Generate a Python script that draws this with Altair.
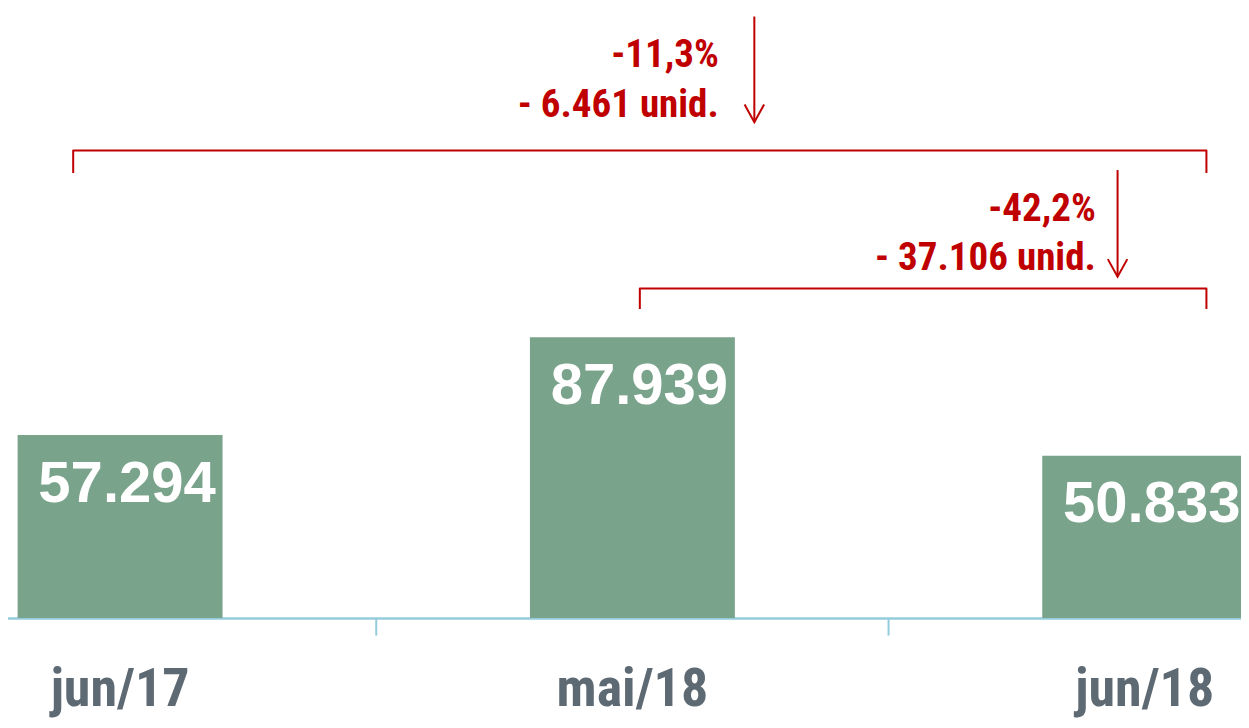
import altair as alt
import pandas as pd

# ---- data ----
categories = ["jun/17", "mai/18", "jun/18"]
values = [57294, 87939, 50833]
value_labels = ["57.294", "87.939", "50.833"]

# annotation texts (two comparisons)
pct_labels = ["-11,3%", "-42,2%"]
unit_labels = ["- 6.461 unid.", "- 37.106 unid."]

# annotation geometry, x in category-index units, y in data units
bracket_left = [-0.0915, 1.0145]
bracket_right = [2.1204, 2.1204]
bracket_top = [146459, 103257]
bracket_end = [139412, 96823]
arrow_x = [1.238, 1.947]
arrow_start = [188436, 140331]
arrow_tip = [155345, 106934]
text_x = [1.1686, 1.9046]
pct_y = [172503, 124398]
unit_y = [156877, 109078]
boundaries = [0.5, 1.5]          # category separators (axis ticks)

PLOT_H = 610
Y_MAX = 191107
TICK_LOW = -5515
X_RANGE = [-144.1, 1392.9]
RED = "#C00000"
GREEN = "#7AA38C"
GRAY = "#5E6A73"
BLUE = "#93CDDD"
NARROW = "Liberation Sans Narrow, Arial Narrow, Roboto Condensed, Liberation Sans, sans-serif"

bars_df = pd.DataFrame({"cat": categories, "value": values, "label": value_labels})

y_scale = alt.Scale(domain=[0, Y_MAX], nice=False, zero=True)
x_band = alt.Scale(range=X_RANGE, paddingInner=0.6, paddingOuter=0.3)
x_idx = alt.Scale(domain=[-0.5, 2.5], range=X_RANGE, nice=False, zero=False)

x_axis = alt.Axis(
    title=None, labelAngle=0, domainColor=BLUE, domainWidth=2.5, ticks=False,
    labelFont=NARROW, labelFontSize=54, labelFontWeight="bold", labelColor=GRAY,
    labelBaseline="alphabetic", labelPadding=87, grid=False,
)

bars = alt.Chart(bars_df).mark_bar(color=GREEN).encode(
    x=alt.X("cat:N", sort=categories, scale=x_band, axis=x_axis),
    y=alt.Y("value:Q", scale=y_scale, axis=None),
)
bar_text = alt.Chart(bars_df).mark_text(
    color="white", font="Liberation Sans", fontSize=58, fontWeight="bold",
    baseline="alphabetic", align="center", dy=66.5, dx=7,
).encode(
    x=alt.X("cat:N", sort=categories, scale=x_band, axis=x_axis),
    y=alt.Y("value:Q", scale=y_scale, axis=None),
    text="label:N",
)
base = alt.layer(bars, bar_text)

ticks_df = pd.DataFrame({"xi": boundaries, "y0": [0, 0], "y1": [TICK_LOW, TICK_LOW]})
ticks = alt.Chart(ticks_df).mark_rule(color=BLUE, strokeWidth=2).encode(
    x=alt.X("xi:Q", scale=x_idx, axis=None),
    y=alt.Y("y0:Q", scale=y_scale, axis=None),
    y2="y1:Q",
)

# brackets and arrow shafts as polylines
rows = []
for i in range(2):
    pts = [(bracket_left[i], bracket_end[i]), (bracket_left[i], bracket_top[i]),
           (bracket_right[i], bracket_top[i]), (bracket_right[i], bracket_end[i])]
    for k, (xx, yy) in enumerate(pts):
        rows.append({"g": f"b{i}", "o": k, "xi": xx, "yv": yy})
    rows.append({"g": f"a{i}", "o": 0, "xi": arrow_x[i], "yv": arrow_start[i]})
    rows.append({"g": f"a{i}", "o": 1, "xi": arrow_x[i], "yv": arrow_tip[i]})
lines_df = pd.DataFrame(rows)

lines = alt.Chart(lines_df).mark_line(
    color=RED, strokeWidth=2, strokeJoin="round", strokeCap="butt"
).encode(
    x=alt.X("xi:Q", scale=x_idx, axis=None),
    y=alt.Y("yv:Q", scale=y_scale, axis=None),
    detail="g:N",
    order="o:Q",
)

heads_df = pd.DataFrame({"xi": arrow_x, "yv": arrow_tip})
heads = alt.Chart(heads_df).mark_point(
    shape="M -1 -1.8 L 0 0 L 1 -1.8", size=380, filled=False,
    stroke=RED, strokeWidth=2, opacity=1,
).encode(
    x=alt.X("xi:Q", scale=x_idx, axis=None),
    y=alt.Y("yv:Q", scale=y_scale, axis=None),
)

txt_rows = []
for i in range(2):
    txt_rows.append({"xi": text_x[i], "yv": pct_y[i], "t": pct_labels[i]})
    txt_rows.append({"xi": text_x[i], "yv": unit_y[i], "t": unit_labels[i]})
txt_df = pd.DataFrame(txt_rows)
ann_text = alt.Chart(txt_df).mark_text(
    color=RED, font=NARROW, fontSize=39, fontWeight="bold",
    align="right", baseline="alphabetic",
).encode(
    x=alt.X("xi:Q", scale=x_idx, axis=None),
    y=alt.Y("yv:Q", scale=y_scale, axis=None),
    text="t:N",
)

annotations = alt.layer(ticks, lines, heads, ann_text)

chart = alt.layer(base, annotations).resolve_scale(
    x="independent"
).properties(
    width=1233, height=PLOT_H,
    autosize=alt.AutoSizeParams(type="none"),
    padding={"left": 0, "top": 0, "right": 0, "bottom": 102},
).configure_view(stroke=None)

chart.save("out.html", embed_options={"renderer": "svg", "actions": False})
